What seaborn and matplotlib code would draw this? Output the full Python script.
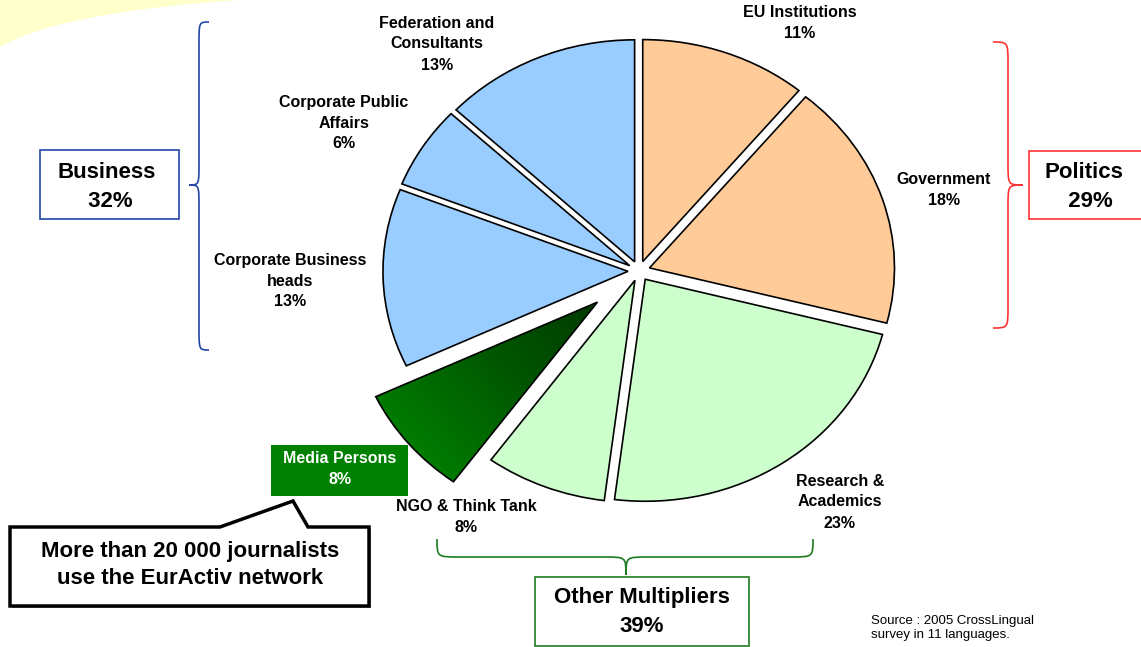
import numpy as np
import matplotlib
matplotlib.use("Agg")
import matplotlib.pyplot as plt
import seaborn as sns
from matplotlib.patches import Rectangle, Polygon, PathPatch
from matplotlib.path import Path
from matplotlib.colors import LinearSegmentedColormap

# slices, clockwise from 12 o'clock
categories = ["EU Institutions", "Government", "Research &\nAcademics", "NGO & Think Tank",
              "Media Persons", "Corporate Business\nheads", "Corporate Public\nAffairs",
              "Federation and\nConsultants"]
shares = [11, 18, 23, 8, 8, 13, 6, 13]
slice_colors = ["#FFCC99", "#FFCC99", "#CCFFCC", "#CCFFCC", "#007A00", "#99CCFF", "#99CCFF", "#99CCFF"]

group_names = ["Business", "Politics", "Other Multipliers"]
group_totals = [32, 29, 39]
group_colors = ["#2447A6", "#FF3333", "#1E7B1E"]

callout = "More than 20 000 journalists\nuse the EurActiv network"
source = "Source : 2005 CrossLingual\nsurvey in 11 languages."

sns.set_style("white")
plt.rcParams["font.family"] = ["Liberation Sans", "DejaVu Sans"]
plt.rcParams["text.color"] = "black"

W, H = 1141, 647
fig = plt.figure(figsize=(W / 100, H / 100), dpi=100)
ax = fig.add_axes([0, 0, 1, 1])
ax.set_xlim(0, W)
ax.set_ylim(H, 0)
ax.axis("off")

# yellow swoosh in the corner
sw = Path([(0, 0), (0, 47), (60, 12), (240, 0), (0, 0)],
          [Path.MOVETO, Path.LINETO, Path.CURVE3, Path.CURVE3, Path.CLOSEPOLY])
ax.add_patch(PathPatch(sw, facecolor="#FFFFCC", edgecolor="none"))

# pie in its own axes, slightly squashed vertically
cx, cy, rx, ry = 639, 271, 245, 222
span = 2.0
axp = fig.add_axes([(cx - span * rx) / W, (H - cy - span * ry) / H,
                    2 * span * rx / W, 2 * span * ry / H])
explode = [0.045] * len(shares)
explode[4] = 0.22
wedges, _ = axp.pie(shares, colors=sns.color_palette(slice_colors), startangle=90,
                    counterclock=False, explode=explode,
                    wedgeprops=dict(edgecolor="black", linewidth=1.2))

# gradient fill for the media slice
mid = np.deg2rad(90 - (sum(shares[:4]) + shares[4] / 2) * 3.6)
dx, dy = np.cos(mid), np.sin(mid)
ax0, ay0 = explode[4] * dx, explode[4] * dy
gx, gy = np.meshgrid(np.linspace(-1.5, 0.2, 300), np.linspace(-1.5, 0.2, 300))
t = np.clip(((gx - ax0) * dx + (gy - ay0) * dy), 0, 1)
cmap = LinearSegmentedColormap.from_list("media", ["#003A00", "#005800", "#007C00"])
im = axp.imshow(t, extent=(-1.5, 0.2, -1.5, 0.2), origin="lower", cmap=cmap,
                zorder=0.5, interpolation="bilinear")
im.set_clip_path(wedges[4])
wedges[4].set_facecolor("none")

axp.set_aspect("auto")
axp.set_xlim(-span, span)
axp.set_ylim(-span, span)
axp.axis("off")

# slice labels
label_pos = [(800, 23), (944, 190), (840, 502), (466, 517), (340, 469),
             (290, 281), (344, 123), (437, 44)]
for i, (name, val) in enumerate(zip(categories, shares)):
    x, y = label_pos[i]
    col = "white" if i == 4 else "black"
    if i == 4:
        ax.add_patch(Rectangle((271, 445), 137, 51, facecolor="#008000", edgecolor="none"))
    ax.text(x, y, f"{name}\n{val}%", ha="center", va="center", fontsize=11.5,
            fontweight="bold", color=col, linespacing=1.5)


def brace(ax, a0, a1, am, base, w, color, vertical=True, d=1, r=22):
    pts = [(a0, base - d * w),
           (a0, base), (a0, base), (a0 + r, base),
           (am - r, base),
           (am, base), (am, base), (am, base + d * w),
           (am, base), (am, base), (am + r, base),
           (a1 - r, base),
           (a1, base), (a1, base), (a1, base - d * w)]
    if vertical:
        pts = [(c, s) for s, c in pts]
    codes = ([Path.MOVETO] + [Path.CURVE4] * 3 + [Path.LINETO] + [Path.CURVE4] * 6
             + [Path.LINETO] + [Path.CURVE4] * 3)
    ax.add_patch(PathPatch(Path(pts, codes), facecolor="none", edgecolor=color, lw=1.2))


brace(ax, 22, 350, 185, 199, 10, group_colors[0], vertical=True, d=-1)
brace(ax, 42, 328, 185, 1008, 15, group_colors[1], vertical=True, d=1)
brace(ax, 437, 813, 626, 557, 18, group_colors[2], vertical=False, d=1)

# group boxes
boxes = [(40, 150, 139, 69), (1029, 151, 130, 68), (535, 577, 214, 69)]
box_pos = [(107, 187), (1084, 187), (642, 612)]
for (bx, by, bw, bh), col in zip(boxes, group_colors):
    ax.add_patch(Rectangle((bx, by), bw, bh, facecolor="white", edgecolor=col, lw=1.2))
for (tx, ty), name, tot in zip(box_pos, group_names, group_totals):
    txt = f"{name}\n{tot}%"
    if name == "Business":
        txt = f"{name}\n {tot}%"
    elif name == "Politics":
        txt = f"{name}\n  {tot}%"
    ax.text(tx, ty, txt, ha="center", va="center", fontsize=16, fontweight="bold",
            linespacing=1.55)

# callout bubble
bubble = [(10, 527), (220, 527), (293, 501), (308, 527), (369, 527), (369, 606), (10, 606)]
ax.add_patch(Polygon([(x + 2, y + 2) for x, y in bubble], closed=True,
                     facecolor="#7F7F7F", edgecolor="none"))
ax.add_patch(Polygon(bubble, closed=True, facecolor="white", edgecolor="black",
                     lw=2.5, joinstyle="miter"))
ax.text(190, 565, callout, ha="center", va="center", fontsize=16, fontweight="bold",
        linespacing=1.35)

ax.text(871, 628, source, ha="left", va="center", fontsize=9.5, linespacing=1.15)

fig.savefig("out.png", dpi=100)
